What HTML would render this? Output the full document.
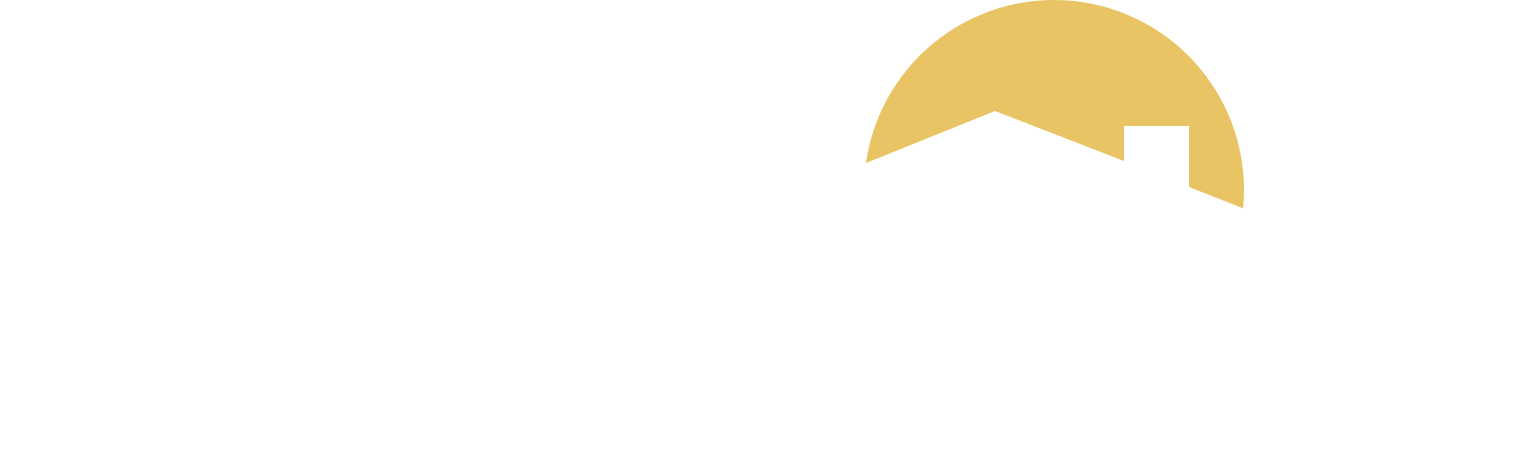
<!DOCTYPE html>
<html><head><meta charset="utf-8"><style>
html,body{margin:0;padding:0;background:#fff;width:1524px;height:460px;overflow:hidden}
</style></head><body>
<svg width="1524" height="460" viewBox="0 0 1524 460" xmlns="http://www.w3.org/2000/svg">
<circle cx="1054" cy="190" r="190" fill="#e9c464"/>
<polygon fill="#fff" points="850,169.5 995,111 1124,161 1124,126 1189,126 1189,187 1260,215 1260,460 850,460"/>
</svg>
</body></html>
